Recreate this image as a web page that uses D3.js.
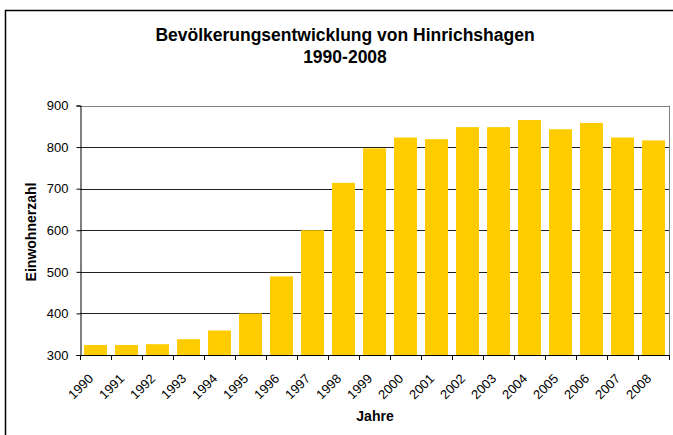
<!DOCTYPE html>
<html>
<head>
<meta charset="utf-8">
<script src="https://cdn.jsdelivr.net/npm/d3@7"></script>
<style>
  body { margin: 0; background: #fff; }
  text { font-family: "Liberation Sans", Arial, sans-serif; fill: #000; }
</style>
</head>
<body>
<svg id="chart" width="673" height="435"></svg>
<script>
// Einwohnerzahl je Jahr
var years = ['1990','1991','1992','1993','1994','1995','1996','1997','1998','1999',
             '2000','2001','2002','2003','2004','2005','2006','2007','2008'];
var population = [324, 324, 326, 338, 359, 400, 489, 600, 714, 797,
                  823, 819, 848, 848, 865, 843, 858, 823, 816];
var yTicks = [300, 400, 500, 600, 700, 800, 900];

var data = years.map(function(y, i){ return {year: y, value: population[i]}; });

var svg = d3.select('#chart');
var plot = {left: 80, right: 669, top: 105.5, bottom: 355};

// outer frame
svg.append('rect')
    .attr('x', 5.5).attr('y', 10.5)
    .attr('width', 700).attr('height', 500)
    .attr('fill', 'none').attr('stroke', '#000').attr('stroke-width', 1.5);

var x = d3.scaleBand()
    .domain(years)
    .range([plot.left, plot.right])
    .paddingInner(0.26)
    .paddingOuter(0.13);

var y = d3.scaleLinear()
    .domain([300, 900])
    .range([plot.bottom, plot.top]);

// gridlines
svg.append('g')
    .selectAll('line')
    .data(yTicks.slice(1))
    .enter().append('line')
        .attr('x1', plot.left).attr('x2', plot.right)
        .attr('y1', function(d){ return Math.round(y(d)) + 0.5; })
        .attr('y2', function(d){ return Math.round(y(d)) + 0.5; })
        .attr('stroke', function(d){ return d === 900 ? '#808080' : '#222'; })
        .attr('stroke-width', 1);

// right border of plot area
svg.append('line')
    .attr('x1', plot.right + 0.5).attr('x2', plot.right + 0.5)
    .attr('y1', plot.top).attr('y2', plot.bottom)
    .attr('stroke', '#808080');

// bars
svg.append('g')
    .selectAll('rect')
    .data(data)
    .enter().append('rect')
        .attr('x', function(d){ return x(d.year); })
        .attr('y', function(d){ return y(d.value); })
        .attr('width', x.bandwidth())
        .attr('height', function(d){ return y(300) - y(d.value); })
        .attr('fill', '#FFCC00');

// y axis
var yAxis = svg.append('g')
    .attr('transform', 'translate(' + (plot.left + 0.5) + ',0)')
    .call(d3.axisLeft(y).tickValues(yTicks).tickSize(4).tickPadding(8));
yAxis.select('.domain').attr('stroke', '#000');
yAxis.selectAll('.tick line').attr('stroke', '#000');
yAxis.selectAll('.tick text')
    .style('font-size', '13px').style('font-family', '"Liberation Sans", Arial, sans-serif')
    .attr('fill', '#000');

// x axis: line + ticks at category boundaries
var xg = svg.append('g');
xg.append('line')
    .attr('x1', plot.left).attr('x2', plot.right + 1)
    .attr('y1', plot.bottom + 0.5).attr('y2', plot.bottom + 0.5)
    .attr('stroke', '#000');
var half = x.step() * x.paddingOuter();
var bounds = years.map(function(d){ return x(d) - half; }).concat([plot.right]);
xg.selectAll('line.tk')
    .data(bounds)
    .enter().append('line')
        .attr('class', 'tk')
        .attr('x1', function(d){ return Math.round(d) + 0.5; })
        .attr('x2', function(d){ return Math.round(d) + 0.5; })
        .attr('y1', plot.bottom).attr('y2', plot.bottom + 5)
        .attr('stroke', '#000');

xg.selectAll('text')
    .data(years)
    .enter().append('text')
        .attr('transform', function(d){
            return 'translate(' + (x(d) + x.bandwidth() / 2 - 1.5) + ',' + (plot.bottom + 24.5) + ') rotate(-45)';
        })
        .attr('text-anchor', 'end')
        .style('font-size', '13px')
        .text(function(d){ return d; });

// titles
svg.append('text')
    .attr('x', 345).attr('y', 41)
    .attr('text-anchor', 'middle')
    .style('font-size', '17.5px').style('font-weight', 'bold')
    .text('Bevölkerungsentwicklung von Hinrichshagen');
svg.append('text')
    .attr('x', 345).attr('y', 63)
    .attr('text-anchor', 'middle')
    .style('font-size', '17.5px').style('font-weight', 'bold')
    .text('1990-2008');

svg.append('text')
    .attr('x', 375).attr('y', 421)
    .attr('text-anchor', 'middle')
    .style('font-size', '14px').style('font-weight', 'bold')
    .text('Jahre');

svg.append('text')
    .attr('transform', 'translate(36,232) rotate(-90)')
    .attr('text-anchor', 'middle')
    .style('font-size', '14px').style('font-weight', 'bold')
    .text('Einwohnerzahl');
</script>
</body>
</html>
